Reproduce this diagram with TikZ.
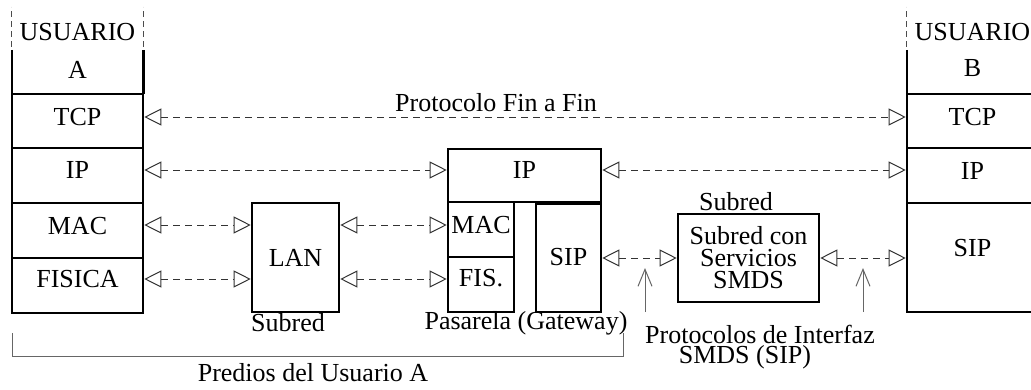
\documentclass[tikz,border=0pt]{standalone}
\usepackage{fontspec}
\setmainfont{Liberation Serif}
\usetikzlibrary{arrows.meta}
\begin{document}
\begin{tikzpicture}[x=1pt,y=-1pt,
  font=\fontsize{26}{22}\selectfont,
  cell/.style={draw, line width=2.6pt, inner sep=0pt},
  plain/.style={inner sep=0pt},
  stackline/.style={line width=2.6pt},
  topdash/.style={line width=0.9pt, black!70, dash pattern=on 6pt off 4pt},
  conn/.style={line width=1pt, black!80, dash pattern=on 7pt off 5pt,
    {Triangle[open,length=17pt,width=17pt,line width=1pt]}-{Triangle[open,length=17pt,width=17pt,line width=1pt]}},
  uparrow/.style={line width=1pt, black!60, -{Straight Barb[length=17pt,width=14pt,line width=1pt]}},
  bracket/.style={line width=1pt, black!60},
  lbl/.style={inner sep=0pt}]
\useasboundingbox (0,0) rectangle (1031,389);
\clip (0,0) rectangle (1031,389);

% ---- stack A
\node[plain, minimum width=131pt, minimum height=44pt, text depth=4pt] (aA) at (77.5,72) {A};
\node[cell, minimum width=131pt, minimum height=54pt, text depth=8pt] (aTCP) at (77.5,121) {TCP};
\node[cell, minimum width=131pt, minimum height=55pt, text depth=11pt] (aIP) at (77.5,175.5) {IP};
\node[cell, minimum width=131pt, minimum height=55pt, text depth=9pt] (aMAC) at (77.5,230.5) {MAC};
\node[cell, minimum width=131pt, minimum height=55pt, text depth=13pt] (aFIS) at (77.5,285.5) {FISICA};
\draw[stackline] (aA.north west) -- (aA.south west);
\draw[stackline] (aA.north east) -- (aA.south east);
\draw[topdash] ([yshift=3pt]aA.north west) -- ++(0,-40);
\draw[topdash] ([yshift=3pt]aA.north east) -- ++(0,-40);
\node[lbl] (usrA) at (77.5,32) {USUARIO};

% ---- stack B
\node[plain, minimum width=131pt, minimum height=44pt, text depth=8pt] (bB) at (972.5,72) {B};
\node[cell, minimum width=131pt, minimum height=54pt, text depth=8pt] (bTCP) at (972.5,121) {TCP};
\node[cell, minimum width=131pt, minimum height=55pt, text depth=9pt] (bIP) at (972.5,175.5) {IP};
\node[cell, minimum width=131pt, minimum height=109pt, text depth=19pt] (bSIP) at (972.5,257.5) {SIP};
\draw[stackline] (bB.north west) -- (bB.south west);
\draw[topdash] ([yshift=3pt]bB.north west) -- ++(0,-40);
\node[lbl] (usrB) at (972.5,32) {USUARIO};

% ---- LAN
\node[cell, minimum width=87pt, minimum height=109pt] (lan) at (295.5,257.5) {LAN};
\node[lbl] (subredlan) at (288,323) {Subred};

% ---- gateway
\node[cell, minimum width=153pt, minimum height=53pt, text depth=11pt] (gIP) at (524.5,175.5) {IP};
\node[cell, minimum width=66pt, minimum height=55pt, text depth=9pt] (gMAC) at (481,229.5) {MAC};
\node[cell, minimum width=66pt, minimum height=55pt, text depth=13pt] (gFIS) at (481,284.5) {FIS.};
\node[cell, minimum width=65pt, minimum height=108pt, text depth=2pt] (gSIP) at (568.5,258) {SIP};
\node[lbl] (pasarela) at (526,323) {Pasarela (Gateway)};

% ---- SMDS subnet
\node[cell, minimum width=141pt, minimum height=88pt, align=center] (smds) at (748.5,258) {Subred con\\Servicios\\SMDS};
\node[lbl] (subredsmds) at (736,202) {Subred};

% ---- connectors
\draw[conn] ([yshift=4pt]aTCP.east) -- ([yshift=4pt]bTCP.west);
\node[lbl] (fin) at (496,103) {Protocolo Fin a Fin};

\coordinate (ipL) at ([yshift=5.5pt]aIP.east);
\coordinate (ipR) at ([yshift=5.5pt]gIP.east);
\draw[conn] (ipL) -- (ipL -| gIP.west);
\draw[conn] (ipR) -- (ipR -| bIP.west);

\coordinate (macL) at ([yshift=5.5pt]aMAC.east);
\draw[conn] (macL) -- (macL -| lan.west);
\draw[conn] (macL -| lan.east) -- (macL -| gMAC.west);

\coordinate (fisL) at ([yshift=6.5pt]aFIS.east);
\draw[conn] (fisL) -- (fisL -| lan.west);
\draw[conn] (fisL -| lan.east) -- (fisL -| gFIS.west);

\draw[conn] (gSIP.east) -- (smds.west);
\draw[conn] (smds.east) -- (smds.east -| bSIP.west);

% ---- interface arrows
\coordinate (p1) at (645,312);
\coordinate (p1t) at (645,268);
\coordinate (p2) at (863,312);
\coordinate (p2t) at (863,268);
\draw[uparrow] (p1) -- (p1t);
\draw[uparrow] (p2) -- (p2t);
\node[lbl] (intf1) at (760,334) {Protocolos de Interfaz};
\node[lbl] (intf2) at (745,357) {SMDS (SIP)};

% ---- bracket
\coordinate (br1) at (12,333);
\coordinate (br2) at (623,333);
\draw[bracket] (br1) -- ++(0,23) -| (br2);
\node[lbl] (predios) at (313,373) {Predios del Usuario A};
\end{tikzpicture}
\end{document}
